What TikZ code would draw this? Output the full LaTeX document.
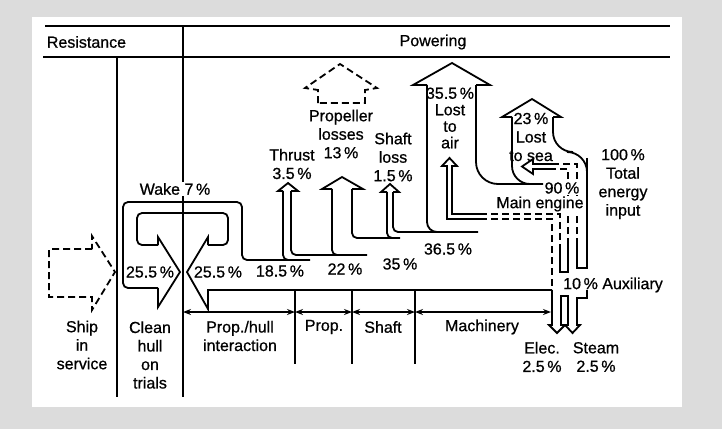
\documentclass[tikz,border=0pt]{standalone}
\usepackage{fontspec}
\setmainfont{Liberation Sans}[FakeBold=0.7]
\usetikzlibrary{arrows.meta}
\definecolor{bggray}{HTML}{DCDCDC}

\begin{document}
\begin{tikzpicture}[x=1pt, y=-1pt, line width=1.8pt,
  every node/.style={font=\fontsize{16}{18.5}\selectfont, inner sep=1pt, align=center},
  lbl/.style={fill=white},
  flow/.style={rounded corners=5pt},
  dashline/.style={dash pattern=on 7pt off 4pt},
  dim/.style={{Stealth[length=8pt,width=6pt]}-{Stealth[length=8pt,width=6pt]}, line width=1.3pt}]
  \fill[bggray] (0,0) rectangle (722,429);
  \fill[white] (32,17) rectangle (682,407);
  \useasboundingbox (0,0) rectangle (722,429);

  \draw (45,26) -- (670,26);
  \draw (43,57) -- (670,57);
  \draw (183,26) -- (183,397);
  \draw (117,57) -- (117,397);
  \node[anchor=west] (resist) at (45,42) {Resistance};
  \node (power) at (433,42) {Powering};

  \draw[dashline] (92,249) -- (49,249) -- (49,297) -- (92,297) -- (92,310) -- (115,272) -- (92,236) -- cycle;
  \node (ship) at (82,345) {Ship\\in\\service};
  \node (clean) at (150,355) {Clean\\hull\\on\\trials};

  \draw[flow] (158,288) -- (123,288) -- (123,202) -- (242,202) -- (242,260) -- (310,260);
  \draw (158,288) -- (158,307) -- (180,272) -- (158,237) -- (158,245);
  \draw[flow] (158,245) -- (137,245) -- (137,213) -- (228,213) -- (228,245) -- (208,245);
  \draw (208,245) -- (208,237) -- (187,272) -- (208,309) -- (208,290) -- (552,290);
  \node[lbl] (wake) at (175,189) {Wake 7\,\%};

  \node (in25a) at (150,272) {25.5\,\%};
  \node (in25b) at (218,272) {25.5\,\%};
  \node (in185) at (280,271) {18.5\,\%};
  \node (in22) at (345,269) {22\,\%};
  \node (in35) at (400,264) {35\,\%};
  \node (in365) at (448,249) {36.5\,\%};

  \draw[flow] (283,191) -- (283,260) -- (296,260);
  \draw[flow] (291,191) -- (291,255) -- (367,255);
  \draw[flow] (332,189) -- (332,255) -- (346,255);
  \draw[flow] (352,189) -- (352,238) -- (400,238);
  \draw[flow] (387,192) -- (387,238) -- (398,238);
  \draw[flow] (393,192) -- (393,232) -- (478,232);
  \draw[rounded corners=10pt] (427,85) -- (427,232) -- (450,232);
  \draw[rounded corners=22pt] (476,85) -- (476,184) -- (543,184);
  \draw[rounded corners=18pt] (512,117) -- (512,184) -- (536,184);
  \draw[rounded corners=20pt] (553,117) -- (553,152) -- (587,152) -- (587,160);
  \draw (587,158) -- (587,268) -- (577,268) -- (577,245);

  \draw (283,191) -- (278,191) -- (288,183) -- (298,191) -- (291,191);
  \draw (332,189) -- (322,189) -- (342,177) -- (363,189) -- (352,189);
  \draw (387,192) -- (381,192) -- (390,184) -- (399,192) -- (393,192);
  \draw (427,85) -- (413,85) -- (452,63) -- (490,85) -- (476,85);
  \draw (512,117) -- (502,117) -- (532,99) -- (561,117) -- (553,117);
  \draw[dashline] (318,103) -- (318,90) -- (305,88) -- (340,64) -- (377,88) -- (365,90) -- (365,103) -- cycle;

  \draw (480,219) -- (447,219) -- (447,166) -- (442,166) -- (449.5,158) -- (457,166) -- (452,166) -- (452,214) -- (480,214);
  \draw[dashline] (480,219) -- (552,219) -- (552,290);
  \draw[dashline] (480,214) -- (560,214) -- (560,245);
  \draw (560,245) -- (560,272) -- (568,272) -- (568,245);
  \draw[dashline] (568,245) -- (568,169) -- (550,169);
  \draw[dashline] (577,245) -- (577,164) -- (552,164);
  \draw (552,164) -- (533,164) -- (533,159) -- (522,166.5) -- (533,174) -- (533,169) -- (550,169);

  \node (thrust) at (292,164) {Thrust\\3.5\,\%};
  \node (proploss) at (341,134) {Propeller\\losses\\13\,\%};
  \node (shaftloss) at (393,157) {Shaft\\loss\\1.5\,\%};
  \node[font=\fontsize{16}{16.5}\selectfont] (air) at (450,118) {35.5\,\%\\Lost\\to\\air};
  \node (sea) at (531,137) {23\,\%\\Lost\\to sea};
  \node[lbl] (ninety) at (562,188) {90\,\%};
  \node[lbl] (engine) at (540,204) {Main engine};
  \node (total) at (623,184) {100\,\%\\Total\\energy\\input};
  \node (aux) at (613,285) {10\,\% Auxiliary};

  \draw (552,290) -- (552,325) -- (549,325) -- (557,333) -- (565,325) -- (561,325) -- (561,296) -- (568,296) -- (568,325) -- (565,325) -- (572.5,333) -- (580,325) -- (577,325) -- (577,298) -- (587,298) -- (587,290);
  \node (elec) at (542,357) {Elec.\\2.5\,\%};
  \node (steam) at (596,357) {Steam\\2.5\,\%};

  \coordinate (d0) at (183,312);
  \coordinate (d1) at (295,312);
  \coordinate (d2) at (352,312);
  \coordinate (d3) at (415,312);
  \coordinate (d4) at (551,312);
  \draw (295,290) -- (295,364);
  \draw (352,290) -- (352,364);
  \draw (415,290) -- (415,364);
  \draw[dim] (d0) -- (d1);
  \draw[dim] (d1) -- (d2);
  \draw[dim] (d2) -- (d3);
  \draw[dim] (d3) -- (d4);
  \node (pfhull) at (240,336) {Prop./hull\\interaction};
  \node (prop) at (324,327) {Prop.};
  \node (shaft) at (383,327) {Shaft};
  \node (mach) at (482,327) {Machinery};
\end{tikzpicture}
\end{document}
